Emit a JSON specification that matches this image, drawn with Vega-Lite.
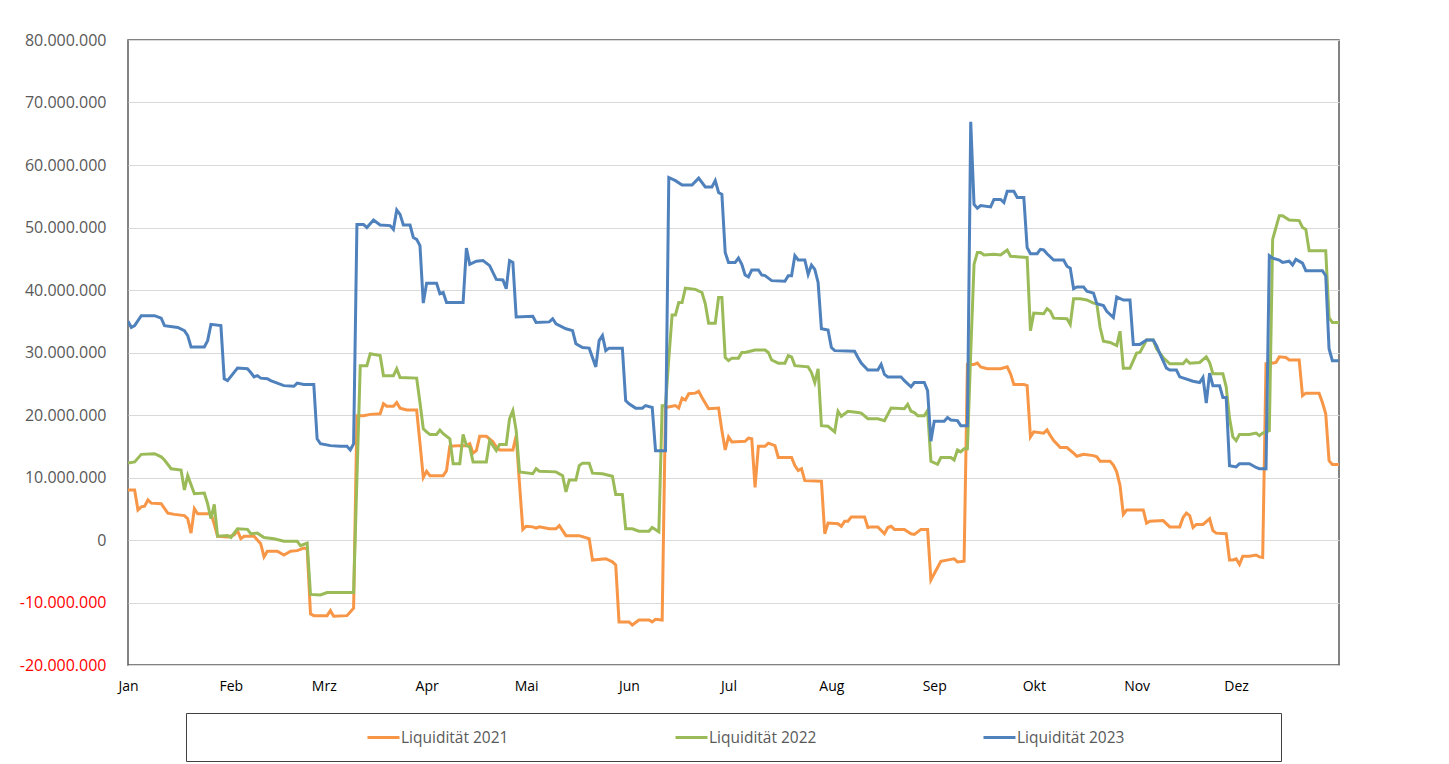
{
"$schema": "https://vega.github.io/schema/vega-lite/v6.json",
"padding": {"left": 18, "top": 31, "right": 10, "bottom": 4},
"background": "white",
"spacing": 48,
"center": true,
"bounds": "flush",
"config": {
  "locale": {"number": {"decimal": ",", "thousands": ".", "grouping": [3], "currency": ["", " €"], "minus": "-"}},
  "font": "Open Sans"
},
"vconcat": [
{
  "width": 1211,
  "height": 625,
  "view": {"stroke": "#595959", "strokeWidth": 1.5},
  "data": {"values": [
{"Tag":0,"Wert":8000000,"Reihe":"Liquidität 2021"},{"Tag":2,"Wert":8000000,"Reihe":"Liquidität 2021"},{"Tag":3,"Wert":4800000,"Reihe":"Liquidität 2021"},{"Tag":4,"Wert":5300000,"Reihe":"Liquidität 2021"},{"Tag":5,"Wert":5400000,"Reihe":"Liquidität 2021"},{"Tag":6,"Wert":6400000,"Reihe":"Liquidität 2021"},{"Tag":7,"Wert":5900000,"Reihe":"Liquidität 2021"},{"Tag":10,"Wert":5800000,"Reihe":"Liquidität 2021"},{"Tag":12,"Wert":4300000,"Reihe":"Liquidität 2021"},{"Tag":14,"Wert":4100000,"Reihe":"Liquidität 2021"},{"Tag":17,"Wert":3900000,"Reihe":"Liquidität 2021"},{"Tag":18,"Wert":3400000,"Reihe":"Liquidität 2021"},{"Tag":19,"Wert":1100000,"Reihe":"Liquidität 2021"},{"Tag":20,"Wert":5000000,"Reihe":"Liquidität 2021"},{"Tag":21,"Wert":4200000,"Reihe":"Liquidität 2021"},{"Tag":24,"Wert":4200000,"Reihe":"Liquidität 2021"},{"Tag":25,"Wert":4300000,"Reihe":"Liquidität 2021"},{"Tag":26,"Wert":2500000,"Reihe":"Liquidität 2021"},{"Tag":27,"Wert":600000,"Reihe":"Liquidität 2021"},{"Tag":30,"Wert":500000,"Reihe":"Liquidität 2021"},{"Tag":32,"Wert":800000,"Reihe":"Liquidität 2021"},{"Tag":33,"Wert":1500000,"Reihe":"Liquidität 2021"},{"Tag":34,"Wert":200000,"Reihe":"Liquidität 2021"},{"Tag":35,"Wert":600000,"Reihe":"Liquidität 2021"},{"Tag":38,"Wert":600000,"Reihe":"Liquidität 2021"},{"Tag":40,"Wert":-600000,"Reihe":"Liquidität 2021"},{"Tag":41,"Wert":-2700000,"Reihe":"Liquidität 2021"},{"Tag":42,"Wert":-1800000,"Reihe":"Liquidität 2021"},{"Tag":45,"Wert":-1800000,"Reihe":"Liquidität 2021"},{"Tag":47,"Wert":-2400000,"Reihe":"Liquidität 2021"},{"Tag":49,"Wert":-1800000,"Reihe":"Liquidität 2021"},{"Tag":51,"Wert":-1700000,"Reihe":"Liquidität 2021"},{"Tag":53,"Wert":-1300000,"Reihe":"Liquidität 2021"},{"Tag":54,"Wert":-1400000,"Reihe":"Liquidität 2021"},{"Tag":55,"Wert":-11800000,"Reihe":"Liquidität 2021"},{"Tag":56,"Wert":-12100000,"Reihe":"Liquidität 2021"},{"Tag":60,"Wert":-12100000,"Reihe":"Liquidität 2021"},{"Tag":61,"Wert":-11300000,"Reihe":"Liquidität 2021"},{"Tag":62,"Wert":-12200000,"Reihe":"Liquidität 2021"},{"Tag":66,"Wert":-12100000,"Reihe":"Liquidität 2021"},{"Tag":68,"Wert":-10900000,"Reihe":"Liquidität 2021"},{"Tag":69,"Wert":19900000,"Reihe":"Liquidität 2021"},{"Tag":71,"Wert":19900000,"Reihe":"Liquidität 2021"},{"Tag":73,"Wert":20100000,"Reihe":"Liquidität 2021"},{"Tag":76,"Wert":20200000,"Reihe":"Liquidität 2021"},{"Tag":77,"Wert":21800000,"Reihe":"Liquidität 2021"},{"Tag":78,"Wert":21400000,"Reihe":"Liquidität 2021"},{"Tag":80,"Wert":21400000,"Reihe":"Liquidität 2021"},{"Tag":81,"Wert":22000000,"Reihe":"Liquidität 2021"},{"Tag":82,"Wert":21100000,"Reihe":"Liquidität 2021"},{"Tag":84,"Wert":20800000,"Reihe":"Liquidität 2021"},{"Tag":87,"Wert":20800000,"Reihe":"Liquidität 2021"},{"Tag":88,"Wert":15500000,"Reihe":"Liquidität 2021"},{"Tag":89,"Wert":10000000,"Reihe":"Liquidität 2021"},{"Tag":90,"Wert":11000000,"Reihe":"Liquidität 2021"},{"Tag":91,"Wert":10300000,"Reihe":"Liquidität 2021"},{"Tag":95,"Wert":10300000,"Reihe":"Liquidität 2021"},{"Tag":96,"Wert":11100000,"Reihe":"Liquidität 2021"},{"Tag":97,"Wert":15000000,"Reihe":"Liquidität 2021"},{"Tag":100,"Wert":15100000,"Reihe":"Liquidität 2021"},{"Tag":102,"Wert":15100000,"Reihe":"Liquidität 2021"},{"Tag":103,"Wert":15400000,"Reihe":"Liquidität 2021"},{"Tag":104,"Wert":13900000,"Reihe":"Liquidität 2021"},{"Tag":105,"Wert":14300000,"Reihe":"Liquidität 2021"},{"Tag":106,"Wert":16600000,"Reihe":"Liquidität 2021"},{"Tag":108,"Wert":16600000,"Reihe":"Liquidität 2021"},{"Tag":110,"Wert":15700000,"Reihe":"Liquidität 2021"},{"Tag":111,"Wert":14900000,"Reihe":"Liquidität 2021"},{"Tag":112,"Wert":14400000,"Reihe":"Liquidität 2021"},{"Tag":116,"Wert":14400000,"Reihe":"Liquidität 2021"},{"Tag":117,"Wert":16700000,"Reihe":"Liquidität 2021"},{"Tag":118,"Wert":9000000,"Reihe":"Liquidität 2021"},{"Tag":119,"Wert":1700000,"Reihe":"Liquidität 2021"},{"Tag":120,"Wert":2200000,"Reihe":"Liquidität 2021"},{"Tag":122,"Wert":2100000,"Reihe":"Liquidität 2021"},{"Tag":123,"Wert":1900000,"Reihe":"Liquidität 2021"},{"Tag":124,"Wert":2100000,"Reihe":"Liquidität 2021"},{"Tag":127,"Wert":1800000,"Reihe":"Liquidität 2021"},{"Tag":129,"Wert":1800000,"Reihe":"Liquidität 2021"},{"Tag":130,"Wert":2300000,"Reihe":"Liquidität 2021"},{"Tag":132,"Wert":700000,"Reihe":"Liquidität 2021"},{"Tag":136,"Wert":700000,"Reihe":"Liquidität 2021"},{"Tag":139,"Wert":200000,"Reihe":"Liquidität 2021"},{"Tag":140,"Wert":-3200000,"Reihe":"Liquidität 2021"},{"Tag":144,"Wert":-3000000,"Reihe":"Liquidität 2021"},{"Tag":146,"Wert":-3500000,"Reihe":"Liquidität 2021"},{"Tag":147,"Wert":-4000000,"Reihe":"Liquidität 2021"},{"Tag":148,"Wert":-13100000,"Reihe":"Liquidität 2021"},{"Tag":151,"Wert":-13100000,"Reihe":"Liquidität 2021"},{"Tag":152,"Wert":-13600000,"Reihe":"Liquidität 2021"},{"Tag":154,"Wert":-12800000,"Reihe":"Liquidität 2021"},{"Tag":157,"Wert":-12800000,"Reihe":"Liquidität 2021"},{"Tag":158,"Wert":-13100000,"Reihe":"Liquidität 2021"},{"Tag":159,"Wert":-12700000,"Reihe":"Liquidität 2021"},{"Tag":161,"Wert":-12800000,"Reihe":"Liquidität 2021"},{"Tag":162,"Wert":21200000,"Reihe":"Liquidität 2021"},{"Tag":164,"Wert":21400000,"Reihe":"Liquidität 2021"},{"Tag":165,"Wert":21500000,"Reihe":"Liquidität 2021"},{"Tag":166,"Wert":21100000,"Reihe":"Liquidität 2021"},{"Tag":167,"Wert":22700000,"Reihe":"Liquidität 2021"},{"Tag":168,"Wert":22400000,"Reihe":"Liquidität 2021"},{"Tag":169,"Wert":23400000,"Reihe":"Liquidität 2021"},{"Tag":171,"Wert":23500000,"Reihe":"Liquidität 2021"},{"Tag":172,"Wert":23800000,"Reihe":"Liquidität 2021"},{"Tag":173,"Wert":22800000,"Reihe":"Liquidität 2021"},{"Tag":175,"Wert":21000000,"Reihe":"Liquidität 2021"},{"Tag":178,"Wert":21100000,"Reihe":"Liquidität 2021"},{"Tag":179,"Wert":17500000,"Reihe":"Liquidität 2021"},{"Tag":180,"Wert":14400000,"Reihe":"Liquidität 2021"},{"Tag":181,"Wert":16500000,"Reihe":"Liquidität 2021"},{"Tag":182,"Wert":15700000,"Reihe":"Liquidität 2021"},{"Tag":186,"Wert":15800000,"Reihe":"Liquidität 2021"},{"Tag":187,"Wert":16300000,"Reihe":"Liquidität 2021"},{"Tag":188,"Wert":16200000,"Reihe":"Liquidität 2021"},{"Tag":189,"Wert":8400000,"Reihe":"Liquidität 2021"},{"Tag":190,"Wert":15000000,"Reihe":"Liquidität 2021"},{"Tag":192,"Wert":15000000,"Reihe":"Liquidität 2021"},{"Tag":193,"Wert":15500000,"Reihe":"Liquidität 2021"},{"Tag":195,"Wert":15100000,"Reihe":"Liquidität 2021"},{"Tag":196,"Wert":13200000,"Reihe":"Liquidität 2021"},{"Tag":200,"Wert":13200000,"Reihe":"Liquidität 2021"},{"Tag":201,"Wert":11900000,"Reihe":"Liquidität 2021"},{"Tag":202,"Wert":11100000,"Reihe":"Liquidität 2021"},{"Tag":203,"Wert":11400000,"Reihe":"Liquidität 2021"},{"Tag":204,"Wert":9500000,"Reihe":"Liquidität 2021"},{"Tag":209,"Wert":9400000,"Reihe":"Liquidität 2021"},{"Tag":210,"Wert":1000000,"Reihe":"Liquidität 2021"},{"Tag":211,"Wert":2700000,"Reihe":"Liquidität 2021"},{"Tag":214,"Wert":2600000,"Reihe":"Liquidität 2021"},{"Tag":215,"Wert":2200000,"Reihe":"Liquidität 2021"},{"Tag":216,"Wert":3000000,"Reihe":"Liquidität 2021"},{"Tag":217,"Wert":3000000,"Reihe":"Liquidität 2021"},{"Tag":218,"Wert":3700000,"Reihe":"Liquidität 2021"},{"Tag":222,"Wert":3700000,"Reihe":"Liquidität 2021"},{"Tag":223,"Wert":2000000,"Reihe":"Liquidität 2021"},{"Tag":224,"Wert":2100000,"Reihe":"Liquidität 2021"},{"Tag":226,"Wert":2100000,"Reihe":"Liquidität 2021"},{"Tag":228,"Wert":1000000,"Reihe":"Liquidität 2021"},{"Tag":229,"Wert":2000000,"Reihe":"Liquidität 2021"},{"Tag":230,"Wert":2200000,"Reihe":"Liquidität 2021"},{"Tag":231,"Wert":1700000,"Reihe":"Liquidität 2021"},{"Tag":234,"Wert":1700000,"Reihe":"Liquidität 2021"},{"Tag":236,"Wert":1000000,"Reihe":"Liquidität 2021"},{"Tag":237,"Wert":900000,"Reihe":"Liquidität 2021"},{"Tag":239,"Wert":1700000,"Reihe":"Liquidität 2021"},{"Tag":241,"Wert":1700000,"Reihe":"Liquidität 2021"},{"Tag":242,"Wert":-6400000,"Reihe":"Liquidität 2021"},{"Tag":243,"Wert":-5400000,"Reihe":"Liquidität 2021"},{"Tag":245,"Wert":-3400000,"Reihe":"Liquidität 2021"},{"Tag":248,"Wert":-3100000,"Reihe":"Liquidität 2021"},{"Tag":249,"Wert":-3000000,"Reihe":"Liquidität 2021"},{"Tag":250,"Wert":-3500000,"Reihe":"Liquidität 2021"},{"Tag":252,"Wert":-3400000,"Reihe":"Liquidität 2021"},{"Tag":253,"Wert":28100000,"Reihe":"Liquidität 2021"},{"Tag":255,"Wert":28100000,"Reihe":"Liquidität 2021"},{"Tag":256,"Wert":28300000,"Reihe":"Liquidität 2021"},{"Tag":257,"Wert":27700000,"Reihe":"Liquidität 2021"},{"Tag":259,"Wert":27400000,"Reihe":"Liquidität 2021"},{"Tag":263,"Wert":27400000,"Reihe":"Liquidität 2021"},{"Tag":265,"Wert":27700000,"Reihe":"Liquidität 2021"},{"Tag":266,"Wert":26600000,"Reihe":"Liquidität 2021"},{"Tag":267,"Wert":24900000,"Reihe":"Liquidität 2021"},{"Tag":270,"Wert":24900000,"Reihe":"Liquidität 2021"},{"Tag":271,"Wert":24700000,"Reihe":"Liquidität 2021"},{"Tag":272,"Wert":16500000,"Reihe":"Liquidität 2021"},{"Tag":273,"Wert":17300000,"Reihe":"Liquidität 2021"},{"Tag":276,"Wert":17100000,"Reihe":"Liquidität 2021"},{"Tag":277,"Wert":17600000,"Reihe":"Liquidität 2021"},{"Tag":278,"Wert":16700000,"Reihe":"Liquidität 2021"},{"Tag":279,"Wert":15900000,"Reihe":"Liquidität 2021"},{"Tag":281,"Wert":14800000,"Reihe":"Liquidität 2021"},{"Tag":283,"Wert":14800000,"Reihe":"Liquidität 2021"},{"Tag":285,"Wert":13900000,"Reihe":"Liquidität 2021"},{"Tag":286,"Wert":13400000,"Reihe":"Liquidität 2021"},{"Tag":288,"Wert":13700000,"Reihe":"Liquidität 2021"},{"Tag":291,"Wert":13500000,"Reihe":"Liquidität 2021"},{"Tag":292,"Wert":13300000,"Reihe":"Liquidität 2021"},{"Tag":293,"Wert":12600000,"Reihe":"Liquidität 2021"},{"Tag":296,"Wert":12600000,"Reihe":"Liquidität 2021"},{"Tag":297,"Wert":12000000,"Reihe":"Liquidität 2021"},{"Tag":298,"Wert":10900000,"Reihe":"Liquidität 2021"},{"Tag":299,"Wert":8700000,"Reihe":"Liquidität 2021"},{"Tag":300,"Wert":4100000,"Reihe":"Liquidität 2021"},{"Tag":301,"Wert":4800000,"Reihe":"Liquidität 2021"},{"Tag":306,"Wert":4800000,"Reihe":"Liquidität 2021"},{"Tag":307,"Wert":2700000,"Reihe":"Liquidität 2021"},{"Tag":308,"Wert":3000000,"Reihe":"Liquidität 2021"},{"Tag":312,"Wert":3100000,"Reihe":"Liquidität 2021"},{"Tag":314,"Wert":2100000,"Reihe":"Liquidität 2021"},{"Tag":317,"Wert":2100000,"Reihe":"Liquidität 2021"},{"Tag":318,"Wert":3600000,"Reihe":"Liquidität 2021"},{"Tag":319,"Wert":4300000,"Reihe":"Liquidität 2021"},{"Tag":320,"Wert":3900000,"Reihe":"Liquidität 2021"},{"Tag":321,"Wert":2000000,"Reihe":"Liquidität 2021"},{"Tag":322,"Wert":2500000,"Reihe":"Liquidität 2021"},{"Tag":324,"Wert":2500000,"Reihe":"Liquidität 2021"},{"Tag":326,"Wert":3400000,"Reihe":"Liquidität 2021"},{"Tag":327,"Wert":1500000,"Reihe":"Liquidität 2021"},{"Tag":328,"Wert":1100000,"Reihe":"Liquidität 2021"},{"Tag":331,"Wert":1000000,"Reihe":"Liquidität 2021"},{"Tag":332,"Wert":-3200000,"Reihe":"Liquidität 2021"},{"Tag":333,"Wert":-3200000,"Reihe":"Liquidität 2021"},{"Tag":334,"Wert":-3000000,"Reihe":"Liquidität 2021"},{"Tag":335,"Wert":-3900000,"Reihe":"Liquidität 2021"},{"Tag":336,"Wert":-2600000,"Reihe":"Liquidität 2021"},{"Tag":338,"Wert":-2600000,"Reihe":"Liquidität 2021"},{"Tag":340,"Wert":-2400000,"Reihe":"Liquidität 2021"},{"Tag":341,"Wert":-2700000,"Reihe":"Liquidität 2021"},{"Tag":342,"Wert":-2800000,"Reihe":"Liquidität 2021"},{"Tag":343,"Wert":28200000,"Reihe":"Liquidität 2021"},{"Tag":344,"Wert":28200000,"Reihe":"Liquidität 2021"},{"Tag":346,"Wert":28400000,"Reihe":"Liquidität 2021"},{"Tag":347,"Wert":29300000,"Reihe":"Liquidität 2021"},{"Tag":349,"Wert":29200000,"Reihe":"Liquidität 2021"},{"Tag":350,"Wert":28800000,"Reihe":"Liquidität 2021"},{"Tag":353,"Wert":28800000,"Reihe":"Liquidität 2021"},{"Tag":354,"Wert":23100000,"Reihe":"Liquidität 2021"},{"Tag":355,"Wert":23500000,"Reihe":"Liquidität 2021"},{"Tag":359,"Wert":23500000,"Reihe":"Liquidität 2021"},{"Tag":360,"Wert":22000000,"Reihe":"Liquidität 2021"},{"Tag":361,"Wert":20200000,"Reihe":"Liquidität 2021"},{"Tag":362,"Wert":12700000,"Reihe":"Liquidität 2021"},{"Tag":363,"Wert":12100000,"Reihe":"Liquidität 2021"},{"Tag":365,"Wert":12100000,"Reihe":"Liquidität 2021"},
{"Tag":0,"Wert":12300000,"Reihe":"Liquidität 2022"},{"Tag":2,"Wert":12500000,"Reihe":"Liquidität 2022"},{"Tag":4,"Wert":13700000,"Reihe":"Liquidität 2022"},{"Tag":8,"Wert":13800000,"Reihe":"Liquidität 2022"},{"Tag":10,"Wert":13300000,"Reihe":"Liquidität 2022"},{"Tag":11,"Wert":12800000,"Reihe":"Liquidität 2022"},{"Tag":13,"Wert":11400000,"Reihe":"Liquidität 2022"},{"Tag":16,"Wert":11200000,"Reihe":"Liquidität 2022"},{"Tag":17,"Wert":8000000,"Reihe":"Liquidität 2022"},{"Tag":18,"Wert":10300000,"Reihe":"Liquidität 2022"},{"Tag":20,"Wert":7400000,"Reihe":"Liquidität 2022"},{"Tag":23,"Wert":7500000,"Reihe":"Liquidität 2022"},{"Tag":24,"Wert":5800000,"Reihe":"Liquidität 2022"},{"Tag":25,"Wert":3400000,"Reihe":"Liquidität 2022"},{"Tag":26,"Wert":5700000,"Reihe":"Liquidität 2022"},{"Tag":27,"Wert":600000,"Reihe":"Liquidität 2022"},{"Tag":30,"Wert":700000,"Reihe":"Liquidität 2022"},{"Tag":31,"Wert":400000,"Reihe":"Liquidität 2022"},{"Tag":33,"Wert":1800000,"Reihe":"Liquidität 2022"},{"Tag":36,"Wert":1700000,"Reihe":"Liquidität 2022"},{"Tag":37,"Wert":1000000,"Reihe":"Liquidität 2022"},{"Tag":39,"Wert":1100000,"Reihe":"Liquidität 2022"},{"Tag":41,"Wert":400000,"Reihe":"Liquidität 2022"},{"Tag":44,"Wert":200000,"Reihe":"Liquidität 2022"},{"Tag":47,"Wert":-200000,"Reihe":"Liquidität 2022"},{"Tag":51,"Wert":-200000,"Reihe":"Liquidität 2022"},{"Tag":52,"Wert":-900000,"Reihe":"Liquidität 2022"},{"Tag":54,"Wert":-500000,"Reihe":"Liquidität 2022"},{"Tag":55,"Wert":-8700000,"Reihe":"Liquidität 2022"},{"Tag":58,"Wert":-8800000,"Reihe":"Liquidität 2022"},{"Tag":60,"Wert":-8400000,"Reihe":"Liquidität 2022"},{"Tag":68,"Wert":-8400000,"Reihe":"Liquidität 2022"},{"Tag":69,"Wert":9800000,"Reihe":"Liquidität 2022"},{"Tag":70,"Wert":27900000,"Reihe":"Liquidität 2022"},{"Tag":72,"Wert":27900000,"Reihe":"Liquidität 2022"},{"Tag":73,"Wert":29800000,"Reihe":"Liquidität 2022"},{"Tag":76,"Wert":29500000,"Reihe":"Liquidität 2022"},{"Tag":77,"Wert":26300000,"Reihe":"Liquidität 2022"},{"Tag":80,"Wert":26300000,"Reihe":"Liquidität 2022"},{"Tag":81,"Wert":27400000,"Reihe":"Liquidität 2022"},{"Tag":82,"Wert":26000000,"Reihe":"Liquidität 2022"},{"Tag":87,"Wert":25900000,"Reihe":"Liquidität 2022"},{"Tag":88,"Wert":22000000,"Reihe":"Liquidität 2022"},{"Tag":89,"Wert":17800000,"Reihe":"Liquidität 2022"},{"Tag":90,"Wert":17300000,"Reihe":"Liquidität 2022"},{"Tag":91,"Wert":16900000,"Reihe":"Liquidität 2022"},{"Tag":93,"Wert":16900000,"Reihe":"Liquidität 2022"},{"Tag":94,"Wert":17600000,"Reihe":"Liquidität 2022"},{"Tag":95,"Wert":17000000,"Reihe":"Liquidität 2022"},{"Tag":97,"Wert":16200000,"Reihe":"Liquidität 2022"},{"Tag":98,"Wert":12200000,"Reihe":"Liquidität 2022"},{"Tag":100,"Wert":12200000,"Reihe":"Liquidität 2022"},{"Tag":101,"Wert":16900000,"Reihe":"Liquidität 2022"},{"Tag":102,"Wert":15100000,"Reihe":"Liquidität 2022"},{"Tag":103,"Wert":14900000,"Reihe":"Liquidität 2022"},{"Tag":104,"Wert":12500000,"Reihe":"Liquidität 2022"},{"Tag":108,"Wert":12500000,"Reihe":"Liquidität 2022"},{"Tag":109,"Wert":15900000,"Reihe":"Liquidität 2022"},{"Tag":111,"Wert":14300000,"Reihe":"Liquidität 2022"},{"Tag":112,"Wert":15300000,"Reihe":"Liquidität 2022"},{"Tag":114,"Wert":15300000,"Reihe":"Liquidität 2022"},{"Tag":115,"Wert":19400000,"Reihe":"Liquidität 2022"},{"Tag":116,"Wert":20700000,"Reihe":"Liquidität 2022"},{"Tag":117,"Wert":17500000,"Reihe":"Liquidität 2022"},{"Tag":118,"Wert":10900000,"Reihe":"Liquidität 2022"},{"Tag":122,"Wert":10600000,"Reihe":"Liquidität 2022"},{"Tag":123,"Wert":11400000,"Reihe":"Liquidität 2022"},{"Tag":124,"Wert":11000000,"Reihe":"Liquidität 2022"},{"Tag":129,"Wert":10900000,"Reihe":"Liquidität 2022"},{"Tag":131,"Wert":10300000,"Reihe":"Liquidität 2022"},{"Tag":132,"Wert":7700000,"Reihe":"Liquidität 2022"},{"Tag":133,"Wert":9600000,"Reihe":"Liquidität 2022"},{"Tag":135,"Wert":9600000,"Reihe":"Liquidität 2022"},{"Tag":136,"Wert":11900000,"Reihe":"Liquidität 2022"},{"Tag":137,"Wert":12300000,"Reihe":"Liquidität 2022"},{"Tag":139,"Wert":12300000,"Reihe":"Liquidität 2022"},{"Tag":140,"Wert":10700000,"Reihe":"Liquidität 2022"},{"Tag":143,"Wert":10600000,"Reihe":"Liquidität 2022"},{"Tag":146,"Wert":10200000,"Reihe":"Liquidität 2022"},{"Tag":147,"Wert":7300000,"Reihe":"Liquidität 2022"},{"Tag":149,"Wert":7300000,"Reihe":"Liquidität 2022"},{"Tag":150,"Wert":1800000,"Reihe":"Liquidität 2022"},{"Tag":152,"Wert":1800000,"Reihe":"Liquidität 2022"},{"Tag":154,"Wert":1400000,"Reihe":"Liquidität 2022"},{"Tag":157,"Wert":1400000,"Reihe":"Liquidität 2022"},{"Tag":158,"Wert":2000000,"Reihe":"Liquidität 2022"},{"Tag":160,"Wert":1300000,"Reihe":"Liquidität 2022"},{"Tag":161,"Wert":21500000,"Reihe":"Liquidität 2022"},{"Tag":162,"Wert":21500000,"Reihe":"Liquidität 2022"},{"Tag":163,"Wert":29000000,"Reihe":"Liquidität 2022"},{"Tag":164,"Wert":36000000,"Reihe":"Liquidität 2022"},{"Tag":165,"Wert":36000000,"Reihe":"Liquidität 2022"},{"Tag":166,"Wert":38000000,"Reihe":"Liquidität 2022"},{"Tag":167,"Wert":38000000,"Reihe":"Liquidität 2022"},{"Tag":168,"Wert":40300000,"Reihe":"Liquidität 2022"},{"Tag":171,"Wert":40100000,"Reihe":"Liquidität 2022"},{"Tag":173,"Wert":39600000,"Reihe":"Liquidität 2022"},{"Tag":174,"Wert":37800000,"Reihe":"Liquidität 2022"},{"Tag":175,"Wert":34700000,"Reihe":"Liquidität 2022"},{"Tag":177,"Wert":34700000,"Reihe":"Liquidität 2022"},{"Tag":178,"Wert":38800000,"Reihe":"Liquidität 2022"},{"Tag":179,"Wert":38800000,"Reihe":"Liquidität 2022"},{"Tag":180,"Wert":29200000,"Reihe":"Liquidität 2022"},{"Tag":181,"Wert":28700000,"Reihe":"Liquidität 2022"},{"Tag":182,"Wert":29100000,"Reihe":"Liquidität 2022"},{"Tag":184,"Wert":29100000,"Reihe":"Liquidität 2022"},{"Tag":185,"Wert":30000000,"Reihe":"Liquidität 2022"},{"Tag":186,"Wert":30000000,"Reihe":"Liquidität 2022"},{"Tag":189,"Wert":30400000,"Reihe":"Liquidität 2022"},{"Tag":192,"Wert":30400000,"Reihe":"Liquidität 2022"},{"Tag":193,"Wert":30000000,"Reihe":"Liquidität 2022"},{"Tag":194,"Wert":28800000,"Reihe":"Liquidität 2022"},{"Tag":196,"Wert":28300000,"Reihe":"Liquidität 2022"},{"Tag":198,"Wert":28300000,"Reihe":"Liquidität 2022"},{"Tag":199,"Wert":29500000,"Reihe":"Liquidität 2022"},{"Tag":200,"Wert":29300000,"Reihe":"Liquidität 2022"},{"Tag":201,"Wert":27900000,"Reihe":"Liquidität 2022"},{"Tag":205,"Wert":27700000,"Reihe":"Liquidität 2022"},{"Tag":206,"Wert":26800000,"Reihe":"Liquidität 2022"},{"Tag":207,"Wert":25200000,"Reihe":"Liquidität 2022"},{"Tag":208,"Wert":27400000,"Reihe":"Liquidität 2022"},{"Tag":209,"Wert":18300000,"Reihe":"Liquidität 2022"},{"Tag":211,"Wert":18200000,"Reihe":"Liquidität 2022"},{"Tag":213,"Wert":17300000,"Reihe":"Liquidität 2022"},{"Tag":214,"Wert":20600000,"Reihe":"Liquidität 2022"},{"Tag":215,"Wert":19800000,"Reihe":"Liquidität 2022"},{"Tag":217,"Wert":20600000,"Reihe":"Liquidität 2022"},{"Tag":220,"Wert":20400000,"Reihe":"Liquidität 2022"},{"Tag":221,"Wert":20300000,"Reihe":"Liquidität 2022"},{"Tag":223,"Wert":19400000,"Reihe":"Liquidität 2022"},{"Tag":226,"Wert":19400000,"Reihe":"Liquidität 2022"},{"Tag":228,"Wert":19100000,"Reihe":"Liquidität 2022"},{"Tag":230,"Wert":21100000,"Reihe":"Liquidität 2022"},{"Tag":234,"Wert":21000000,"Reihe":"Liquidität 2022"},{"Tag":235,"Wert":21700000,"Reihe":"Liquidität 2022"},{"Tag":236,"Wert":20600000,"Reihe":"Liquidität 2022"},{"Tag":237,"Wert":20400000,"Reihe":"Liquidität 2022"},{"Tag":238,"Wert":19900000,"Reihe":"Liquidität 2022"},{"Tag":240,"Wert":19900000,"Reihe":"Liquidität 2022"},{"Tag":241,"Wert":20700000,"Reihe":"Liquidität 2022"},{"Tag":242,"Wert":12600000,"Reihe":"Liquidität 2022"},{"Tag":244,"Wert":12100000,"Reihe":"Liquidität 2022"},{"Tag":245,"Wert":13200000,"Reihe":"Liquidität 2022"},{"Tag":248,"Wert":13200000,"Reihe":"Liquidität 2022"},{"Tag":249,"Wert":12800000,"Reihe":"Liquidität 2022"},{"Tag":250,"Wert":14400000,"Reihe":"Liquidität 2022"},{"Tag":251,"Wert":14100000,"Reihe":"Liquidität 2022"},{"Tag":252,"Wert":14600000,"Reihe":"Liquidität 2022"},{"Tag":253,"Wert":14600000,"Reihe":"Liquidität 2022"},{"Tag":254,"Wert":30000000,"Reihe":"Liquidität 2022"},{"Tag":255,"Wert":44100000,"Reihe":"Liquidität 2022"},{"Tag":256,"Wert":46000000,"Reihe":"Liquidität 2022"},{"Tag":257,"Wert":46000000,"Reihe":"Liquidität 2022"},{"Tag":258,"Wert":45600000,"Reihe":"Liquidität 2022"},{"Tag":261,"Wert":45700000,"Reihe":"Liquidität 2022"},{"Tag":263,"Wert":45600000,"Reihe":"Liquidität 2022"},{"Tag":265,"Wert":46400000,"Reihe":"Liquidität 2022"},{"Tag":266,"Wert":45400000,"Reihe":"Liquidität 2022"},{"Tag":271,"Wert":45200000,"Reihe":"Liquidität 2022"},{"Tag":272,"Wert":33500000,"Reihe":"Liquidität 2022"},{"Tag":273,"Wert":36300000,"Reihe":"Liquidität 2022"},{"Tag":276,"Wert":36200000,"Reihe":"Liquidität 2022"},{"Tag":277,"Wert":37000000,"Reihe":"Liquidität 2022"},{"Tag":278,"Wert":36600000,"Reihe":"Liquidität 2022"},{"Tag":279,"Wert":35500000,"Reihe":"Liquidität 2022"},{"Tag":283,"Wert":35400000,"Reihe":"Liquidität 2022"},{"Tag":284,"Wert":34500000,"Reihe":"Liquidität 2022"},{"Tag":285,"Wert":38600000,"Reihe":"Liquidität 2022"},{"Tag":287,"Wert":38600000,"Reihe":"Liquidität 2022"},{"Tag":289,"Wert":38400000,"Reihe":"Liquidität 2022"},{"Tag":291,"Wert":37900000,"Reihe":"Liquidität 2022"},{"Tag":292,"Wert":37800000,"Reihe":"Liquidität 2022"},{"Tag":293,"Wert":34000000,"Reihe":"Liquidität 2022"},{"Tag":294,"Wert":31800000,"Reihe":"Liquidität 2022"},{"Tag":296,"Wert":31600000,"Reihe":"Liquidität 2022"},{"Tag":298,"Wert":31100000,"Reihe":"Liquidität 2022"},{"Tag":299,"Wert":33400000,"Reihe":"Liquidität 2022"},{"Tag":300,"Wert":27500000,"Reihe":"Liquidität 2022"},{"Tag":302,"Wert":27500000,"Reihe":"Liquidität 2022"},{"Tag":304,"Wert":29900000,"Reihe":"Liquidität 2022"},{"Tag":305,"Wert":30000000,"Reihe":"Liquidität 2022"},{"Tag":307,"Wert":32000000,"Reihe":"Liquidität 2022"},{"Tag":309,"Wert":32000000,"Reihe":"Liquidität 2022"},{"Tag":310,"Wert":30600000,"Reihe":"Liquidität 2022"},{"Tag":312,"Wert":29200000,"Reihe":"Liquidität 2022"},{"Tag":314,"Wert":28200000,"Reihe":"Liquidität 2022"},{"Tag":318,"Wert":28200000,"Reihe":"Liquidität 2022"},{"Tag":319,"Wert":28800000,"Reihe":"Liquidität 2022"},{"Tag":320,"Wert":28300000,"Reihe":"Liquidität 2022"},{"Tag":323,"Wert":28400000,"Reihe":"Liquidität 2022"},{"Tag":325,"Wert":29300000,"Reihe":"Liquidität 2022"},{"Tag":326,"Wert":28400000,"Reihe":"Liquidität 2022"},{"Tag":327,"Wert":26600000,"Reihe":"Liquidität 2022"},{"Tag":330,"Wert":26600000,"Reihe":"Liquidität 2022"},{"Tag":331,"Wert":24500000,"Reihe":"Liquidität 2022"},{"Tag":332,"Wert":19500000,"Reihe":"Liquidität 2022"},{"Tag":333,"Wert":16500000,"Reihe":"Liquidität 2022"},{"Tag":334,"Wert":15900000,"Reihe":"Liquidität 2022"},{"Tag":335,"Wert":16900000,"Reihe":"Liquidität 2022"},{"Tag":338,"Wert":16900000,"Reihe":"Liquidität 2022"},{"Tag":340,"Wert":17100000,"Reihe":"Liquidität 2022"},{"Tag":341,"Wert":16700000,"Reihe":"Liquidität 2022"},{"Tag":342,"Wert":17100000,"Reihe":"Liquidität 2022"},{"Tag":344,"Wert":17500000,"Reihe":"Liquidität 2022"},{"Tag":345,"Wert":48100000,"Reihe":"Liquidität 2022"},{"Tag":346,"Wert":50000000,"Reihe":"Liquidität 2022"},{"Tag":347,"Wert":51900000,"Reihe":"Liquidität 2022"},{"Tag":348,"Wert":51900000,"Reihe":"Liquidität 2022"},{"Tag":350,"Wert":51200000,"Reihe":"Liquidität 2022"},{"Tag":353,"Wert":51100000,"Reihe":"Liquidität 2022"},{"Tag":354,"Wert":50000000,"Reihe":"Liquidität 2022"},{"Tag":355,"Wert":49700000,"Reihe":"Liquidität 2022"},{"Tag":356,"Wert":46300000,"Reihe":"Liquidität 2022"},{"Tag":361,"Wert":46300000,"Reihe":"Liquidität 2022"},{"Tag":362,"Wert":35600000,"Reihe":"Liquidität 2022"},{"Tag":363,"Wert":34800000,"Reihe":"Liquidität 2022"},{"Tag":365,"Wert":34800000,"Reihe":"Liquidität 2022"},
{"Tag":0,"Wert":35000000,"Reihe":"Liquidität 2023"},{"Tag":1,"Wert":34000000,"Reihe":"Liquidität 2023"},{"Tag":2,"Wert":34300000,"Reihe":"Liquidität 2023"},{"Tag":4,"Wert":35900000,"Reihe":"Liquidität 2023"},{"Tag":8,"Wert":35900000,"Reihe":"Liquidität 2023"},{"Tag":10,"Wert":35500000,"Reihe":"Liquidität 2023"},{"Tag":11,"Wert":34300000,"Reihe":"Liquidität 2023"},{"Tag":15,"Wert":34000000,"Reihe":"Liquidität 2023"},{"Tag":17,"Wert":33500000,"Reihe":"Liquidität 2023"},{"Tag":18,"Wert":32700000,"Reihe":"Liquidität 2023"},{"Tag":19,"Wert":30900000,"Reihe":"Liquidität 2023"},{"Tag":23,"Wert":30900000,"Reihe":"Liquidität 2023"},{"Tag":24,"Wert":31900000,"Reihe":"Liquidität 2023"},{"Tag":25,"Wert":34500000,"Reihe":"Liquidität 2023"},{"Tag":28,"Wert":34300000,"Reihe":"Liquidität 2023"},{"Tag":29,"Wert":25800000,"Reihe":"Liquidität 2023"},{"Tag":30,"Wert":25500000,"Reihe":"Liquidität 2023"},{"Tag":33,"Wert":27500000,"Reihe":"Liquidität 2023"},{"Tag":36,"Wert":27400000,"Reihe":"Liquidität 2023"},{"Tag":37,"Wert":26800000,"Reihe":"Liquidität 2023"},{"Tag":38,"Wert":26100000,"Reihe":"Liquidität 2023"},{"Tag":39,"Wert":26300000,"Reihe":"Liquidität 2023"},{"Tag":40,"Wert":25900000,"Reihe":"Liquidität 2023"},{"Tag":42,"Wert":25800000,"Reihe":"Liquidität 2023"},{"Tag":43,"Wert":25500000,"Reihe":"Liquidität 2023"},{"Tag":47,"Wert":24700000,"Reihe":"Liquidität 2023"},{"Tag":50,"Wert":24600000,"Reihe":"Liquidität 2023"},{"Tag":51,"Wert":25100000,"Reihe":"Liquidität 2023"},{"Tag":53,"Wert":24900000,"Reihe":"Liquidität 2023"},{"Tag":56,"Wert":24900000,"Reihe":"Liquidität 2023"},{"Tag":57,"Wert":16200000,"Reihe":"Liquidität 2023"},{"Tag":58,"Wert":15400000,"Reihe":"Liquidität 2023"},{"Tag":61,"Wert":15100000,"Reihe":"Liquidität 2023"},{"Tag":64,"Wert":15000000,"Reihe":"Liquidität 2023"},{"Tag":66,"Wert":15000000,"Reihe":"Liquidität 2023"},{"Tag":67,"Wert":14400000,"Reihe":"Liquidität 2023"},{"Tag":68,"Wert":15400000,"Reihe":"Liquidität 2023"},{"Tag":69,"Wert":50500000,"Reihe":"Liquidität 2023"},{"Tag":71,"Wert":50500000,"Reihe":"Liquidität 2023"},{"Tag":72,"Wert":50000000,"Reihe":"Liquidität 2023"},{"Tag":74,"Wert":51200000,"Reihe":"Liquidität 2023"},{"Tag":76,"Wert":50400000,"Reihe":"Liquidität 2023"},{"Tag":79,"Wert":50300000,"Reihe":"Liquidität 2023"},{"Tag":80,"Wert":49700000,"Reihe":"Liquidität 2023"},{"Tag":81,"Wert":52800000,"Reihe":"Liquidität 2023"},{"Tag":82,"Wert":52100000,"Reihe":"Liquidität 2023"},{"Tag":83,"Wert":50400000,"Reihe":"Liquidität 2023"},{"Tag":85,"Wert":50400000,"Reihe":"Liquidität 2023"},{"Tag":86,"Wert":48400000,"Reihe":"Liquidität 2023"},{"Tag":87,"Wert":48100000,"Reihe":"Liquidität 2023"},{"Tag":88,"Wert":47100000,"Reihe":"Liquidität 2023"},{"Tag":89,"Wert":37900000,"Reihe":"Liquidität 2023"},{"Tag":90,"Wert":41100000,"Reihe":"Liquidität 2023"},{"Tag":93,"Wert":41100000,"Reihe":"Liquidität 2023"},{"Tag":94,"Wert":39400000,"Reihe":"Liquidität 2023"},{"Tag":95,"Wert":39600000,"Reihe":"Liquidität 2023"},{"Tag":96,"Wert":38000000,"Reihe":"Liquidität 2023"},{"Tag":101,"Wert":38000000,"Reihe":"Liquidität 2023"},{"Tag":102,"Wert":46700000,"Reihe":"Liquidität 2023"},{"Tag":103,"Wert":44100000,"Reihe":"Liquidität 2023"},{"Tag":105,"Wert":44600000,"Reihe":"Liquidität 2023"},{"Tag":107,"Wert":44700000,"Reihe":"Liquidität 2023"},{"Tag":109,"Wert":43900000,"Reihe":"Liquidität 2023"},{"Tag":111,"Wert":41700000,"Reihe":"Liquidität 2023"},{"Tag":113,"Wert":41600000,"Reihe":"Liquidität 2023"},{"Tag":114,"Wert":40200000,"Reihe":"Liquidität 2023"},{"Tag":115,"Wert":44700000,"Reihe":"Liquidität 2023"},{"Tag":116,"Wert":44400000,"Reihe":"Liquidität 2023"},{"Tag":117,"Wert":35700000,"Reihe":"Liquidität 2023"},{"Tag":122,"Wert":35800000,"Reihe":"Liquidität 2023"},{"Tag":123,"Wert":34800000,"Reihe":"Liquidität 2023"},{"Tag":127,"Wert":34900000,"Reihe":"Liquidität 2023"},{"Tag":128,"Wert":35400000,"Reihe":"Liquidität 2023"},{"Tag":129,"Wert":34600000,"Reihe":"Liquidität 2023"},{"Tag":132,"Wert":33800000,"Reihe":"Liquidität 2023"},{"Tag":134,"Wert":33500000,"Reihe":"Liquidität 2023"},{"Tag":135,"Wert":31400000,"Reihe":"Liquidität 2023"},{"Tag":137,"Wert":30800000,"Reihe":"Liquidität 2023"},{"Tag":139,"Wert":30700000,"Reihe":"Liquidität 2023"},{"Tag":141,"Wert":27700000,"Reihe":"Liquidität 2023"},{"Tag":142,"Wert":31900000,"Reihe":"Liquidität 2023"},{"Tag":143,"Wert":32700000,"Reihe":"Liquidität 2023"},{"Tag":144,"Wert":30300000,"Reihe":"Liquidität 2023"},{"Tag":145,"Wert":30700000,"Reihe":"Liquidität 2023"},{"Tag":149,"Wert":30700000,"Reihe":"Liquidität 2023"},{"Tag":150,"Wert":22300000,"Reihe":"Liquidität 2023"},{"Tag":151,"Wert":21800000,"Reihe":"Liquidität 2023"},{"Tag":153,"Wert":21100000,"Reihe":"Liquidität 2023"},{"Tag":155,"Wert":21100000,"Reihe":"Liquidität 2023"},{"Tag":156,"Wert":21500000,"Reihe":"Liquidität 2023"},{"Tag":158,"Wert":21200000,"Reihe":"Liquidität 2023"},{"Tag":159,"Wert":14300000,"Reihe":"Liquidität 2023"},{"Tag":162,"Wert":14300000,"Reihe":"Liquidität 2023"},{"Tag":163,"Wert":58000000,"Reihe":"Liquidität 2023"},{"Tag":165,"Wert":57500000,"Reihe":"Liquidität 2023"},{"Tag":167,"Wert":56800000,"Reihe":"Liquidität 2023"},{"Tag":170,"Wert":56800000,"Reihe":"Liquidität 2023"},{"Tag":172,"Wert":57900000,"Reihe":"Liquidität 2023"},{"Tag":174,"Wert":56500000,"Reihe":"Liquidität 2023"},{"Tag":176,"Wert":56500000,"Reihe":"Liquidität 2023"},{"Tag":177,"Wert":57500000,"Reihe":"Liquidität 2023"},{"Tag":178,"Wert":55600000,"Reihe":"Liquidität 2023"},{"Tag":179,"Wert":55300000,"Reihe":"Liquidität 2023"},{"Tag":180,"Wert":46000000,"Reihe":"Liquidität 2023"},{"Tag":181,"Wert":44400000,"Reihe":"Liquidität 2023"},{"Tag":183,"Wert":44400000,"Reihe":"Liquidität 2023"},{"Tag":184,"Wert":45100000,"Reihe":"Liquidität 2023"},{"Tag":185,"Wert":44100000,"Reihe":"Liquidität 2023"},{"Tag":186,"Wert":42400000,"Reihe":"Liquidität 2023"},{"Tag":187,"Wert":42100000,"Reihe":"Liquidität 2023"},{"Tag":188,"Wert":43200000,"Reihe":"Liquidität 2023"},{"Tag":190,"Wert":43200000,"Reihe":"Liquidität 2023"},{"Tag":191,"Wert":42400000,"Reihe":"Liquidität 2023"},{"Tag":192,"Wert":42300000,"Reihe":"Liquidität 2023"},{"Tag":194,"Wert":41500000,"Reihe":"Liquidität 2023"},{"Tag":198,"Wert":41400000,"Reihe":"Liquidität 2023"},{"Tag":199,"Wert":42300000,"Reihe":"Liquidität 2023"},{"Tag":200,"Wert":42300000,"Reihe":"Liquidität 2023"},{"Tag":201,"Wert":45500000,"Reihe":"Liquidität 2023"},{"Tag":202,"Wert":44800000,"Reihe":"Liquidität 2023"},{"Tag":204,"Wert":44800000,"Reihe":"Liquidität 2023"},{"Tag":205,"Wert":42500000,"Reihe":"Liquidität 2023"},{"Tag":206,"Wert":44000000,"Reihe":"Liquidität 2023"},{"Tag":207,"Wert":43300000,"Reihe":"Liquidität 2023"},{"Tag":208,"Wert":41200000,"Reihe":"Liquidität 2023"},{"Tag":209,"Wert":33800000,"Reihe":"Liquidität 2023"},{"Tag":211,"Wert":33600000,"Reihe":"Liquidität 2023"},{"Tag":212,"Wert":30800000,"Reihe":"Liquidität 2023"},{"Tag":213,"Wert":30300000,"Reihe":"Liquidität 2023"},{"Tag":219,"Wert":30200000,"Reihe":"Liquidität 2023"},{"Tag":220,"Wert":29200000,"Reihe":"Liquidität 2023"},{"Tag":221,"Wert":28300000,"Reihe":"Liquidität 2023"},{"Tag":223,"Wert":27200000,"Reihe":"Liquidität 2023"},{"Tag":226,"Wert":27200000,"Reihe":"Liquidität 2023"},{"Tag":227,"Wert":28100000,"Reihe":"Liquidität 2023"},{"Tag":228,"Wert":26500000,"Reihe":"Liquidität 2023"},{"Tag":229,"Wert":26100000,"Reihe":"Liquidität 2023"},{"Tag":233,"Wert":26100000,"Reihe":"Liquidität 2023"},{"Tag":234,"Wert":25500000,"Reihe":"Liquidität 2023"},{"Tag":236,"Wert":24500000,"Reihe":"Liquidität 2023"},{"Tag":237,"Wert":25200000,"Reihe":"Liquidität 2023"},{"Tag":240,"Wert":25200000,"Reihe":"Liquidität 2023"},{"Tag":241,"Wert":23900000,"Reihe":"Liquidität 2023"},{"Tag":242,"Wert":15800000,"Reihe":"Liquidität 2023"},{"Tag":243,"Wert":19000000,"Reihe":"Liquidität 2023"},{"Tag":246,"Wert":19000000,"Reihe":"Liquidität 2023"},{"Tag":247,"Wert":19600000,"Reihe":"Liquidität 2023"},{"Tag":248,"Wert":19200000,"Reihe":"Liquidität 2023"},{"Tag":250,"Wert":19100000,"Reihe":"Liquidität 2023"},{"Tag":251,"Wert":18300000,"Reihe":"Liquidität 2023"},{"Tag":253,"Wert":18300000,"Reihe":"Liquidität 2023"},{"Tag":254,"Wert":66900000,"Reihe":"Liquidität 2023"},{"Tag":255,"Wert":53700000,"Reihe":"Liquidität 2023"},{"Tag":256,"Wert":53100000,"Reihe":"Liquidität 2023"},{"Tag":257,"Wert":53500000,"Reihe":"Liquidität 2023"},{"Tag":260,"Wert":53300000,"Reihe":"Liquidität 2023"},{"Tag":261,"Wert":54500000,"Reihe":"Liquidität 2023"},{"Tag":263,"Wert":54500000,"Reihe":"Liquidität 2023"},{"Tag":264,"Wert":54000000,"Reihe":"Liquidität 2023"},{"Tag":265,"Wert":55800000,"Reihe":"Liquidität 2023"},{"Tag":267,"Wert":55800000,"Reihe":"Liquidität 2023"},{"Tag":268,"Wert":54800000,"Reihe":"Liquidität 2023"},{"Tag":270,"Wert":54800000,"Reihe":"Liquidität 2023"},{"Tag":271,"Wert":46800000,"Reihe":"Liquidität 2023"},{"Tag":272,"Wert":45800000,"Reihe":"Liquidität 2023"},{"Tag":274,"Wert":45800000,"Reihe":"Liquidität 2023"},{"Tag":275,"Wert":46500000,"Reihe":"Liquidität 2023"},{"Tag":276,"Wert":46400000,"Reihe":"Liquidität 2023"},{"Tag":277,"Wert":45800000,"Reihe":"Liquidität 2023"},{"Tag":279,"Wert":44800000,"Reihe":"Liquidität 2023"},{"Tag":282,"Wert":44800000,"Reihe":"Liquidität 2023"},{"Tag":283,"Wert":43800000,"Reihe":"Liquidität 2023"},{"Tag":284,"Wert":43500000,"Reihe":"Liquidität 2023"},{"Tag":285,"Wert":40200000,"Reihe":"Liquidität 2023"},{"Tag":286,"Wert":40500000,"Reihe":"Liquidität 2023"},{"Tag":288,"Wert":40500000,"Reihe":"Liquidität 2023"},{"Tag":289,"Wert":39800000,"Reihe":"Liquidität 2023"},{"Tag":291,"Wert":39500000,"Reihe":"Liquidität 2023"},{"Tag":292,"Wert":37800000,"Reihe":"Liquidität 2023"},{"Tag":294,"Wert":37500000,"Reihe":"Liquidität 2023"},{"Tag":295,"Wert":36600000,"Reihe":"Liquidität 2023"},{"Tag":297,"Wert":35600000,"Reihe":"Liquidität 2023"},{"Tag":298,"Wert":38900000,"Reihe":"Liquidität 2023"},{"Tag":300,"Wert":38400000,"Reihe":"Liquidität 2023"},{"Tag":302,"Wert":38400000,"Reihe":"Liquidität 2023"},{"Tag":303,"Wert":31300000,"Reihe":"Liquidität 2023"},{"Tag":305,"Wert":31300000,"Reihe":"Liquidität 2023"},{"Tag":307,"Wert":32000000,"Reihe":"Liquidität 2023"},{"Tag":309,"Wert":32000000,"Reihe":"Liquidität 2023"},{"Tag":310,"Wert":31100000,"Reihe":"Liquidität 2023"},{"Tag":311,"Wert":29800000,"Reihe":"Liquidität 2023"},{"Tag":313,"Wert":27500000,"Reihe":"Liquidität 2023"},{"Tag":314,"Wert":27200000,"Reihe":"Liquidität 2023"},{"Tag":316,"Wert":27200000,"Reihe":"Liquidität 2023"},{"Tag":317,"Wert":26100000,"Reihe":"Liquidität 2023"},{"Tag":321,"Wert":25400000,"Reihe":"Liquidität 2023"},{"Tag":323,"Wert":25200000,"Reihe":"Liquidität 2023"},{"Tag":324,"Wert":26000000,"Reihe":"Liquidität 2023"},{"Tag":325,"Wert":21900000,"Reihe":"Liquidität 2023"},{"Tag":326,"Wert":26700000,"Reihe":"Liquidität 2023"},{"Tag":327,"Wert":24700000,"Reihe":"Liquidität 2023"},{"Tag":329,"Wert":24700000,"Reihe":"Liquidität 2023"},{"Tag":330,"Wert":22800000,"Reihe":"Liquidität 2023"},{"Tag":331,"Wert":22800000,"Reihe":"Liquidität 2023"},{"Tag":332,"Wert":11900000,"Reihe":"Liquidität 2023"},{"Tag":334,"Wert":11700000,"Reihe":"Liquidität 2023"},{"Tag":335,"Wert":12200000,"Reihe":"Liquidität 2023"},{"Tag":338,"Wert":12200000,"Reihe":"Liquidität 2023"},{"Tag":340,"Wert":11600000,"Reihe":"Liquidität 2023"},{"Tag":341,"Wert":11400000,"Reihe":"Liquidität 2023"},{"Tag":343,"Wert":11400000,"Reihe":"Liquidität 2023"},{"Tag":344,"Wert":45500000,"Reihe":"Liquidität 2023"},{"Tag":345,"Wert":45100000,"Reihe":"Liquidität 2023"},{"Tag":347,"Wert":44800000,"Reihe":"Liquidität 2023"},{"Tag":348,"Wert":44400000,"Reihe":"Liquidität 2023"},{"Tag":350,"Wert":44600000,"Reihe":"Liquidität 2023"},{"Tag":351,"Wert":44000000,"Reihe":"Liquidität 2023"},{"Tag":352,"Wert":44900000,"Reihe":"Liquidität 2023"},{"Tag":354,"Wert":44300000,"Reihe":"Liquidität 2023"},{"Tag":355,"Wert":43100000,"Reihe":"Liquidität 2023"},{"Tag":360,"Wert":43100000,"Reihe":"Liquidität 2023"},{"Tag":361,"Wert":42300000,"Reihe":"Liquidität 2023"},{"Tag":362,"Wert":30600000,"Reihe":"Liquidität 2023"},{"Tag":363,"Wert":28700000,"Reihe":"Liquidität 2023"},{"Tag":365,"Wert":28700000,"Reihe":"Liquidität 2023"}
  ]},
  "mark": {"type": "line", "strokeWidth": 3, "clip": true},
  "encoding": {
    "x": {"field": "Tag", "type": "quantitative",
      "scale": {"domain": [0, 365], "nice": false, "zero": false},
      "axis": {"values": [0,31,59,90,120,151,181,212,243,273,304,334],
        "labelExpr": "['Jan','Feb','Mrz','Apr','Mai','Jun','Jul','Aug','Sep','Okt','Nov','Dez'][indexof([0,31,59,90,120,151,181,212,243,273,304,334], datum.value)]",
        "grid": false, "ticks": false, "domain": false, "title": null,
        "labelFont": "Open Sans", "labelFontSize": 14, "labelColor": "#000000",
        "labelPadding": 14, "labelFlush": false, "labelOverlap": false}},
    "y": {"field": "Wert", "type": "quantitative",
      "scale": {"domain": [-20000000, 80000000], "nice": false, "zero": false},
      "axis": {"values": [-20000000,-10000000,0,10000000,20000000,30000000,40000000,50000000,60000000,70000000,80000000],
        "format": ",d", "title": null, "ticks": false, "domain": false,
        "grid": true, "gridColor": "#d9d9d9", "gridWidth": 1,
        "labelFont": "Open Sans", "labelFontSize": 16, "labelPadding": 22,
        "labelColor": {"condition": {"test": "datum.value < 0", "value": "#FF0000"}, "value": "#595959"}}},
    "color": {"field": "Reihe", "type": "nominal",
      "scale": {"domain": ["Liquidität 2021", "Liquidität 2022", "Liquidität 2023"], "range": ["#F79646", "#9BBB59", "#4F81BD"]},
      "legend": {"title": null, "orient": "none", "legendX": 238, "legendY": 680, "direction": "horizontal",
        "symbolType": "stroke", "symbolSize": 1024, "symbolStrokeWidth": 3,
        "labelFont": "Open Sans", "labelFontSize": 15.5, "labelColor": "#595959",
        "labelOffset": 0, "columnPadding": 160, "labelLimit": 300, "padding": 0}}
  }
},
{
  "width": 1095,
  "height": 48,
  "view": {"stroke": "#404040", "strokeWidth": 1},
  "data": {"values": []},
  "mark": {"type": "text"},
  "encoding": {}
}
]
}
